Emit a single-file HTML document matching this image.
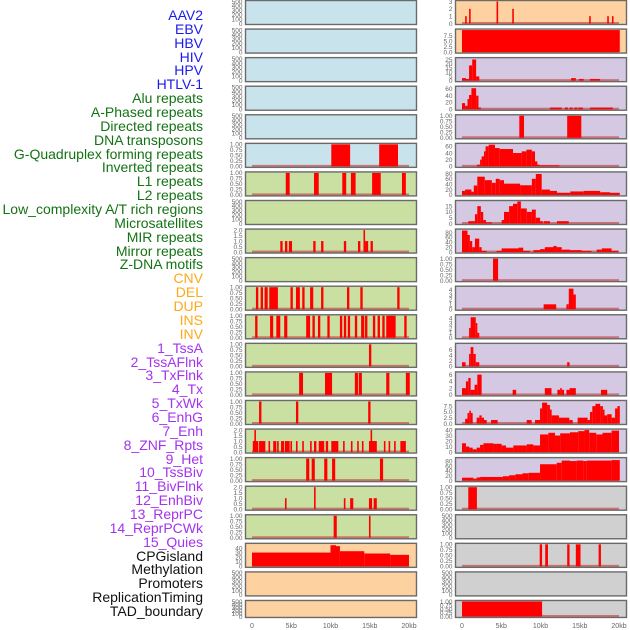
<!DOCTYPE html>
<html><head><meta charset="utf-8"><style>
html,body{margin:0;padding:0;background:#fff;}
#wrap{position:relative;width:630px;height:630px;overflow:hidden;font-family:"Liberation Sans",sans-serif;}
.lab{position:absolute;right:427px;font-size:14px;line-height:14px;white-space:nowrap;}
svg{position:absolute;left:0;top:0;}
</style></head><body>
<div id="wrap">
<div id="labels"></div>
<svg id="chart" width="630" height="630"></svg>
</div>
<script>
const trackNames = ["AAV2","EBV","HBV","HIV","HPV","HTLV-1","Alu repeats","A-Phased repeats","Directed repeats","DNA transposons","G-Quadruplex forming repeats","Inverted repeats","L1 repeats","L2 repeats","Low_complexity A/T rich regions","Microsatellites","MIR repeats","Mirror repeats","Z-DNA motifs","CNV","DEL","DUP","INS","INV","1_TssA","2_TssAFlnk","3_TxFlnk","4_Tx","5_TxWk","6_EnhG","7_Enh","8_ZNF_Rpts","9_Het","10_TssBiv","11_BivFlnk","12_EnhBiv","13_ReprPC","14_ReprPCWk","15_Quies","CPGisland","Methylation","Promoters","ReplicationTiming","TAD_boundary"];
const trackGroups = ["v","v","v","v","v","v","r","r","r","r","r","r","r","r","r","r","r","r","r","s","s","s","s","s","c","c","c","c","c","c","c","c","c","c","c","c","c","c","c","o","o","o","o","o"];
const xTickLabels = ["0","5kb","10kb","15kb","20kb"];
const xTickValues = [0,5,10,15,20];

// column 1 panels
const c1Bg = ["b","b","b","b","b","b","g","g","g","g","g","g","g","g","g","g","g","g","g","o","o","o"];
const c1Max = [500,500,500,500,500,1,1,500,2,500,1,1,1,1,1,2,1,2,1,48,500,500];
const c1Data = [
[],[],[],[],[],
[[10.1,12.5,1],[16.2,18.6,1]],
[[4.3,4.8,1],[7.9,8.5,1],[11.5,12.0,1],[12.6,13.2,1],[15.3,16.4,1],[19.1,19.6,1]],
[],
[[3.6,3.9,1],[4.2,4.5,1],[4.7,5.1,1],[7.8,8.1,1],[8.8,9.1,1],[11.7,12.0,1],[13.5,13.8,1],[14.2,14.4,2],[14.4,14.8,1],[15.1,15.4,1]],
[],
[[0.5,0.8,1],[1.1,1.4,1],[1.6,2.0,1],[2.2,3.3,1],[4.9,5.2,1],[5.6,6.1,1],[6.4,6.7,1],[7.4,7.8,1],[8.8,9.1,1],[12.1,12.4,1],[13.8,14.1,1],[18.5,18.8,1]],
[[0.4,0.7,1],[2.3,2.7,1],[3.1,3.6,1],[4.1,4.5,1],[6.9,7.4,1],[7.7,8.0,1],[8.4,8.7,1],[9.6,9.9,1],[11.2,11.5,1],[11.7,12.0,1],[12.2,12.5,1],[13.1,13.4,1],[13.9,14.3,1],[14.4,14.7,1],[15.4,15.7,1],[16.0,16.3,1],[16.6,16.9,1],[17.1,18.3,1],[19.4,19.7,1]],
[[14.9,15.2,1]],
[[6.0,6.5,1],[9.3,10.2,1],[13.1,13.5,1],[13.6,14.0,1],[17.1,17.5,1],[19.6,20.1,1]],
[[0.9,1.2,1],[5.6,5.9,1],[14.8,15.1,1]],
[[0.1,0.8,1],[0.3,0.5,2],[0.9,1.7,1],[2.1,2.3,1],[2.7,3.1,1],[3.2,3.4,1],[3.7,4.1,1],[4.2,4.8,1],[4.9,5.1,1],[5.6,5.8,1],[6.4,6.6,1],[7.4,7.6,1],[7.9,8.2,1],[8.5,9.2,1],[9.4,9.7,1],[10.1,11.0,1],[11.6,11.8,1],[12.6,12.8,1],[13.4,13.6,1],[14.0,14.2,1],[14.9,15.9,1],[15.1,15.3,2],[16.8,17.0,1],[17.4,17.6,1],[18.1,18.3,1],[18.9,19.6,1]],
[[6.9,7.3,1],[7.6,8.0,1],[9.2,9.6,1],[10.2,10.6,1],[16.3,16.7,1]],
[[4.2,4.4,1],[7.9,8.1,2],[11.7,11.9,1],[12.5,12.9,1],[14.9,15.3,1],[15.5,15.9,1]],
[[10.4,10.8,1],[14.9,15.1,1]],
[[0,10,30],[10,10.7,46],[10.7,11.2,44],[11.2,14.3,33],[14.3,17.6,28],[17.6,20,25]],
[],[]
];

// column 2 panels
const c2Bg = ["o","o","p","p","p","p","p","p","p","p","p","p","p","p","p","p","p","y","y","y","y","y"];
const c2Max = [3,10,26,65,1,66,82,19,90,1,4.5,4.5,8,6.5,9.5,40,90,1,500,1,500,1];
const c2Data = [
[[0.4,0.6,1],[0.9,1.1,2],[4.4,4.6,3],[6.4,6.6,2],[16.2,16.4,1],[18.5,18.7,1],[19.1,19.3,1]],
[[0,20.1,10]],
[[0,0.5,3],[0.5,0.9,2],[0.9,1.3,18],[1.3,1.8,25],[1.8,2.2,5],[13.9,14.5,3],[14.9,15.5,2],[16.3,17.6,2]],
[[0,0.4,18],[0.4,0.7,10],[0.7,0.9,30],[0.9,1.2,42],[1.2,1.8,62],[1.8,2.1,40],[2.1,2.4,5],[11.2,12.7,5],[13.1,13.5,5],[13.7,14.1,5],[14.3,14.7,5],[14.8,15.4,5],[16.3,19.2,5]],
[[7.3,7.9,1],[13.4,15.2,1]],
[[1.9,2.3,5],[2.3,2.5,20],[2.5,2.8,30],[2.8,3.0,45],[3.0,3.4,60],[3.4,4.2,65],[4.2,4.8,55],[4.8,6.5,52],[6.5,7.6,40],[7.6,8.2,45],[8.2,8.9,50],[8.9,9.3,45],[9.3,9.6,15],[9.6,9.9,5],[9.9,12.4,3]],
[[0,0.4,15],[0.4,1.2,20],[1.2,1.5,12],[1.5,1.95,35],[1.95,2.9,68],[2.9,3.8,55],[3.8,4.3,45],[4.3,4.8,60],[4.8,5.35,55],[5.35,7.4,42],[7.4,8.9,36],[8.9,9.4,60],[9.4,10.15,78],[10.15,11.2,20],[11.2,12.1,15],[12.1,13.8,8],[13.8,15.5,13],[15.5,17.6,15],[17.6,18.85,10],[18.85,20.1,8]],
[[0.8,1.65,2],[1.65,1.95,8],[1.95,2.4,15],[2.4,2.7,10],[2.7,3.05,3],[3.05,3.8,1],[5.05,5.35,3],[5.35,6.0,10],[6.0,6.5,15],[6.5,7.05,17],[7.05,7.5,19],[7.5,8.25,13],[8.25,8.9,10],[8.9,9.4,12],[9.4,9.95,5],[9.95,10.3,2],[10.4,11.2,2],[12.1,13.6,2]],
[[0,0.7,88],[0.7,1.0,70],[1.0,1.3,45],[1.3,1.65,20],[1.65,2.2,55],[2.2,2.5,20],[2.5,3.15,5],[4.4,5.05,5],[5.05,7.2,15],[7.2,7.8,18],[7.8,8.65,5],[9.1,9.95,8],[9.95,10.55,12],[10.55,11.65,20],[11.65,12.05,25],[12.05,12.7,20],[12.7,13.75,10],[13.75,15.25,8],[15.25,16.5,5],[17.15,17.8,10],[17.8,19.05,15],[19.05,19.9,5]],
[[3.95,4.6,1]],
[[10.4,12.0,1],[13.3,13.6,1],[13.6,14.2,4.2],[14.2,14.5,3]],
[[0.9,1.1,2],[1.1,1.75,4.2],[1.75,1.95,3],[1.95,2.2,1]],
[[0,0.45,1.5],[0.9,1.1,4.5],[1.1,1.45,7],[1.45,1.75,4.5],[1.75,2.2,1.5],[13.4,13.7,1.5]],
[[0,0.5,2],[0.5,0.8,4],[0.8,1.1,5],[1.1,1.6,1.5],[1.6,1.95,3],[1.95,2.5,6],[6.45,6.9,1.5],[10.55,11.4,2],[12.15,12.5,1.5],[12.5,12.7,2],[12.7,13.0,1.5],[13.3,13.7,1.5],[13.7,14.5,2],[17.7,18.5,1.5]],
[[0.4,0.7,2],[0.7,0.93,4.5],[0.93,1.1,5.5],[1.1,1.36,4.5],[1.87,2.21,2.5],[2.21,2.5,3.5],[2.5,2.8,2.5],[2.8,3.14,1.5],[3.7,4.54,1.5],[8.24,8.87,1.5],[9.3,9.94,1.5],[9.94,10.2,6.5],[10.2,10.85,9],[10.85,11.2,8],[11.2,11.42,6],[11.42,12.35,3.5],[12.35,13.67,2.5],[13.67,14.1,1.5],[14.73,16.0,2.5],[16.0,16.3,1.5],[16.3,16.6,5],[16.6,17.0,7.5],[17.0,17.6,8.5],[17.6,17.95,7.5],[17.95,18.15,6],[18.15,18.5,3.5],[18.5,19.06,4],[19.06,19.5,2.5],[19.5,19.8,6.5],[19.8,20.1,7.5]],
[[0,0.5,16],[0.5,0.93,10],[0.93,1.36,8],[1.36,1.87,5],[1.87,2.3,8],[2.3,2.72,13],[2.72,4.0,16],[4.0,4.4,15],[4.4,5.05,15],[5.05,5.6,12],[5.6,6.54,8],[6.54,8.24,12],[8.24,9.09,14],[9.09,9.94,12],[9.94,11.0,32],[11.0,11.85,35],[11.85,12.5,30],[12.5,13.76,34],[13.76,14.8,36],[14.8,15.6,38],[15.6,16.2,40],[16.2,17.1,35],[17.1,17.9,32],[17.9,19.06,35],[19.06,20.0,39]],
[[0,1.45,12],[1.45,1.87,8],[1.87,2.3,13],[2.3,5.2,15],[5.2,6.0,18],[6.0,6.8,22],[6.8,7.7,26],[7.7,8.5,30],[8.5,9.94,32],[9.94,12.06,67],[12.06,12.7,73],[12.7,13.76,82],[13.76,14.6,80],[14.6,15.46,82],[15.46,15.9,80],[15.9,19.06,82],[19.06,20.1,84]],
[[0.8,1.9,1]],
[],
[[9.9,10.2,1],[10.6,10.95,1],[13.4,13.7,1],[14.5,15.1,1],[17.4,17.7,1]],
[],
[[0,10.2,1]]
];

const NS = "http://www.w3.org/2000/svg";
const svg = document.getElementById("chart");
const bgColors = {b:"#c8e3eb",g:"#c9e0a2",o:"#fdd1a0",p:"#d5c8e3",y:"#d0d0d0"};
const textColors = {v:"#1a1aee",r:"#137313",s:"#ffa81a",c:"#a333ee",o:"#111111"};
function el(tag, attrs){const e=document.createElementNS(NS,tag);for(const k in attrs)e.setAttribute(k,attrs[k]);return e;}
function rowTop(i){return i===0?0.5:i*28.57+0.5;}
function rowH(i){return i===21?17:24;}
function xScale(col,kb){const x0=col===0?252:462;return x0+kb*7.85;}
function yScale(v,max,top,h){return (top+h-1)-(v/max)*(h-2);}
function tickList(max){
  if(max===500)return [0,100,200,300,400,500];
  if(max===1)return [0,0.25,0.5,0.75,1];
  if(max===2)return [0,0.5,1,1.5,2];
  if(max===3)return [0,1,2,3];
  if(max===10||max===9.5)return [0,2.5,5,7.5];
  if(max===26)return [0,5,10,15,20,25];
  if(max===65||max===66)return [0,20,40,60];
  if(max===82||max===90)return [0,20,40,60,80];
  if(max===19)return [0,5,10,15];
  if(max===4.5)return [0,1,2,3,4];
  if(max===8||max===6.5)return [0,2,4,6];
  if(max===40||max===48)return [0,10,20,30,40];
  return [0,max];
}
function fmt(t,max){
  if(max===1)return t.toFixed(2);
  if(max===2||max===10||max===9.5)return t.toFixed(1);
  return String(t);
}
function drawPanel(col,i,bg,max,data){
  const top=rowTop(i),h=rowH(i);
  const left=col===0?245.5:455.5,w=171;
  const g=el("g",{});
  
  
  const r=el("rect",{x:left,y:top,width:w,height:h,fill:bgColors[bg]});
  
  
  g.appendChild(r);
  if(data.length){
    const base=el("rect",{x:xScale(col,0),y:top+h-2.5,width:xScale(col,20)-xScale(col,0),height:2,fill:"#c84a4a",opacity:0.7});
    
    
    g.appendChild(base);
  }
  data.forEach(d=>{
    const x1=xScale(col,d[0]),x2=xScale(col,d[1]);
    const y=yScale(Math.min(d[2],max),max,top,h);
    const b=el("rect",{x:x1,y:y,width:Math.max(1.6,x2-x1),height:(top+h-1)-y,fill:"#ff0000"});
    
    
    g.appendChild(b);
  });
  const fr=el("rect",{x:left,y:top,width:w,height:h,fill:"none",stroke:"#6a6a6a","stroke-width":1.4});
  
  
  g.appendChild(fr);
  tickList(max).forEach(t=>{
    const ty=yScale(t,max,top,h);
    const tx=el("text",{x:left-3,y:ty+2.3,"text-anchor":"end","font-size":"6.5","fill":"#666","font-family":"Liberation Sans, sans-serif"});
    tx.textContent=fmt(t,max);
    
    
    g.appendChild(tx);
  });
  svg.appendChild(g);
}
for(let i=0;i<22;i++){drawPanel(0,i,c1Bg[i],c1Max[i],c1Data[i]);drawPanel(1,i,c2Bg[i],c2Max[i],c2Data[i]);}
[0,1].forEach(col=>{
  xTickValues.forEach((v,k)=>{
    const t=el("text",{x:xScale(col,v),y:628,"text-anchor":"middle","font-size":"7","fill":"#666","font-family":"Liberation Sans, sans-serif"});
    t.textContent=xTickLabels[k];
    
    
    svg.appendChild(t);
  });
});
const labBox=document.getElementById("labels");
trackNames.forEach((n,k)=>{
  const d=document.createElement("div");
  d.className="lab";
  d.style.top=(8+k*13.86)+"px";
  d.style.color=textColors[trackGroups[k]];
  d.textContent=n;
  
  
  labBox.appendChild(d);
});
</script>
</body></html>
